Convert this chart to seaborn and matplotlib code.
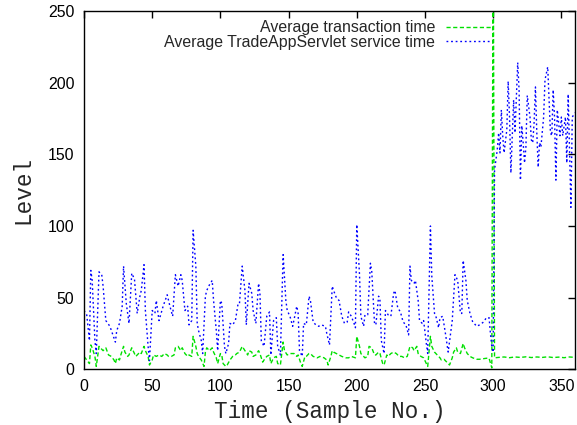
import matplotlib
matplotlib.use("Agg")
import matplotlib.pyplot as plt
import seaborn as sns
import pandas as pd

# Sample numbers and levels for the servlet service time
servlet_sample = [
    0, 2, 4, 5, 6, 8, 9, 11, 13, 14, 16, 19, 23, 24, 26, 28, 29, 31, 33, 35,
    37, 39, 41, 42, 44, 45, 47, 48, 50, 52, 53, 55, 58, 61, 63, 65, 67, 69, 71, 72,
    74, 76, 77, 79, 80, 82, 83, 84, 86, 87, 89, 90, 92, 94, 95, 97, 98, 100, 101, 103,
    104, 106, 107, 109, 111, 113, 114, 116, 118, 119, 121, 123, 124, 126, 128, 129, 130, 132, 134, 136,
    137, 139, 141, 142, 144, 146, 148, 149, 151, 153, 156, 157, 158, 160, 161, 163, 165, 166, 168, 170,
    172, 174, 177, 178, 180, 182, 183, 185, 187, 189, 191, 193, 194, 196, 198, 199, 200, 202, 203, 205,
    206, 208, 210, 211, 213, 214, 216, 217, 218, 220, 221, 223, 225, 227, 228, 230, 232, 234, 236, 238,
    239, 240, 242, 243, 245, 246, 248, 249, 251, 252, 254, 255, 257, 258, 260, 261, 263, 265, 267, 269,
    270, 272, 274, 276, 277, 278, 280, 281, 283, 285, 288, 290, 293, 295, 297, 298, 299, 300, 301, 303,
    304, 305, 306, 307, 308, 310, 311, 312, 313, 315, 316, 318, 319, 320, 321, 322, 323, 324, 325, 327,
    328, 329, 330, 331, 332, 333, 334, 335, 337, 338, 340, 341, 342, 343, 344, 345, 346, 347, 349, 350,
    351, 353, 354, 355, 356, 357, 358, 360,
]
servlet_level = [
    41, 38, 20, 69, 62, 20, 11, 68, 66, 58, 34, 30, 19, 27, 32, 44, 72, 46, 32, 67,
    63, 39, 51, 55, 73, 41, 16, 6, 41, 39, 48, 34, 44, 52, 44, 37, 66, 58, 66, 62,
    41, 44, 31, 34, 97, 72, 32, 27, 20, 11, 51, 55, 59, 62, 48, 27, 13, 48, 46, 16,
    11, 18, 32, 31, 34, 46, 46, 72, 55, 31, 60, 53, 41, 32, 60, 53, 20, 16, 37, 40,
    10, 34, 36, 16, 10, 80, 48, 41, 37, 30, 44, 39, 13, 9, 32, 31, 51, 48, 33, 31,
    30, 31, 30, 25, 17, 58, 55, 50, 48, 37, 32, 33, 40, 37, 32, 29, 101, 66, 37, 30,
    38, 38, 74, 68, 32, 31, 51, 48, 20, 11, 41, 38, 37, 53, 55, 43, 40, 33, 31, 24,
    72, 62, 60, 62, 48, 34, 32, 34, 18, 11, 100, 65, 39, 37, 29, 36, 37, 25, 12, 27,
    34, 66, 62, 39, 39, 76, 62, 48, 39, 33, 30, 31, 33, 36, 36, 25, 16, 12, 139, 153,
    165, 151, 181, 163, 151, 167, 201, 176, 137, 188, 165, 214, 195, 132, 170, 158, 144, 155, 191, 176,
    160, 158, 172, 197, 165, 141, 158, 155, 176, 202, 211, 188, 165, 163, 195, 176, 132, 181, 163, 176,
    163, 176, 144, 192, 151, 113, 176, 179,
]

# Sample numbers and levels for the transaction time
transaction_sample = [
    0, 2, 4, 5, 6, 8, 9, 11, 12, 14, 16, 18, 20, 22, 23, 24, 26, 27, 29, 30,
    32, 33, 35, 36, 38, 39, 41, 42, 44, 45, 47, 48, 50, 51, 53, 55, 57, 59, 61, 62,
    64, 66, 67, 69, 71, 72, 74, 76, 77, 79, 80, 82, 83, 84, 86, 88, 89, 90, 92, 94,
    95, 97, 98, 100, 101, 102, 104, 105, 107, 109, 111, 112, 114, 116, 118, 120, 121, 123, 124, 126,
    128, 129, 131, 132, 134, 136, 137, 139, 141, 142, 144, 146, 147, 149, 151, 154, 156, 157, 159, 160,
    162, 163, 165, 166, 168, 171, 173, 176, 178, 179, 181, 182, 183, 185, 187, 189, 192, 194, 196, 199,
    200, 202, 203, 205, 206, 208, 209, 211, 213, 214, 216, 217, 219, 220, 222, 223, 225, 227, 229, 231,
    233, 235, 237, 239, 241, 242, 244, 245, 247, 249, 251, 252, 254, 255, 257, 259, 261, 262, 264, 266,
    268, 270, 271, 273, 274, 276, 278, 279, 281, 283, 285, 288, 290, 293, 295, 297, 299, 300, 301, 304,
    308, 312, 316, 320, 324, 328, 332, 336, 340, 344, 348, 352, 356, 360,
]
transaction_level = [
    9, 6.5, 4, 17, 15, 9, 2, 16, 15, 13, 15, 10, 9, 6.5, 4, 8, 6.5, 10, 16, 12,
    9, 10, 15, 13, 9, 10, 12, 11, 16, 13, 9, 3, 6.5, 10, 9, 10, 9, 11, 10, 9,
    9, 10, 15, 16, 13, 15, 11, 9, 10, 9, 23, 16, 11, 9, 6.5, 2, 12, 15, 13, 15,
    12, 8, 4, 11, 10, 4, 2, 3, 6.5, 9, 10, 11, 12, 16, 13, 10, 13, 12, 9, 10,
    13, 11, 5, 6.5, 9, 10, 4, 8, 9, 4, 3, 19, 13, 10, 11, 11, 9, 10, 4, 2,
    9, 9, 11, 11, 9, 8, 9, 8, 6.5, 3, 9, 13, 12, 11, 10, 9, 8, 8, 9, 8,
    23, 16, 11, 9, 8, 9, 16, 15, 10, 10, 12, 11, 4, 3, 10, 9, 11, 12, 11, 9,
    9, 8, 9, 16, 15, 13, 16, 11, 9, 8, 4, 2, 23, 16, 12, 10, 8, 6.5, 7, 5,
    3, 8, 12, 15, 12, 11, 18, 15, 11, 9, 8, 7, 7, 7.4, 7.7, 7.7, 1, 320, 8, 8.3,
    8.6, 8.1, 8.6, 8.3, 8.7, 8.2, 8.6, 8.3, 8.7, 8.2, 8.5, 8.1, 8.6, 8.3,
]

x_ticks = [0, 50, 100, 150, 200, 250, 300, 350]
y_ticks = [0, 50, 100, 150, 200, 250]

sns.set_style("white")
plt.rcParams["font.family"] = ["Liberation Sans", "DejaVu Sans"]

fig = plt.figure(figsize=(5.77, 4.25), dpi=100)
ax = fig.add_axes([84 / 577, 1 - 369.3 / 425, 491 / 577, 358.3 / 425])

transaction = pd.DataFrame({"sample": transaction_sample, "level": transaction_level})
servlet = pd.DataFrame({"sample": servlet_sample, "level": servlet_level})

sns.lineplot(data=transaction, x="sample", y="level", ax=ax, color="#00e000",
             linewidth=1.0, dashes=False, linestyle=(0, (3.0, 1.8)),
             label="Average transaction time")
sns.lineplot(data=servlet, x="sample", y="level", ax=ax, color="#0000ff",
             linewidth=1.0, dashes=False, linestyle=(0, (1.3, 2.0)),
             label="Average TradeAppServlet service time")

ax.set_xlim(0, 360)
ax.set_ylim(0, 250)
ax.set_xticks(x_ticks)
ax.set_yticks(y_ticks)
ax.tick_params(direction="in", length=5, width=1, colors="black",
               top=True, right=True, labelsize=11.4, pad=7)
ax.tick_params(axis="x", pad=7)
for side in ax.spines.values():
    side.set_color("black")
    side.set_linewidth(1.0)

mono = ["Liberation Mono", "DejaVu Sans Mono"]
ax.set_xlabel("Time (Sample No.)", family=mono, fontsize=16.3)
ax.set_ylabel("Level", family=mono, fontsize=16.3)
ax.xaxis.set_label_coords(0.5, -0.087)
ax.yaxis.set_label_coords(-0.102, 0.5)

leg = ax.legend(loc="upper right", bbox_to_anchor=(0.831, 0.974),
                markerfirst=False, frameon=False, fontsize=11.4,
                handlelength=2.9, handletextpad=0.7, labelspacing=-0.05,
                borderpad=0, borderaxespad=0)

fig.savefig("out.png", dpi=100)
